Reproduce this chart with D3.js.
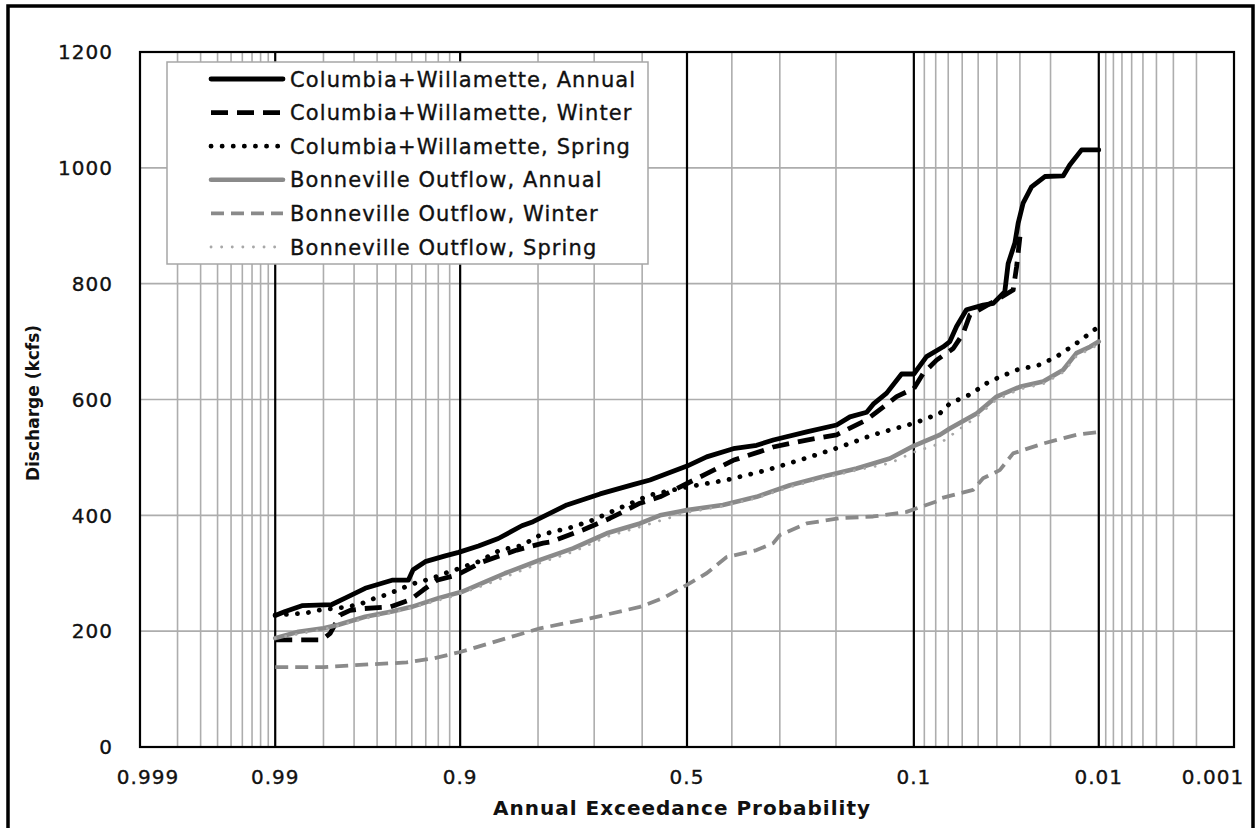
<!DOCTYPE html>
<html>
<head>
<meta charset="utf-8">
<script src="https://cdn.jsdelivr.net/npm/d3@7"></script>
<style>
  body { margin: 0; background: #fff; }
  text { font-family: "DejaVu Sans", Verdana, sans-serif; fill: #111; }
  .heavy { stroke: #111; stroke-width: 0.35px; }
</style>
</head>
<body>
<div id="chart"></div>
<script>
// exceedance probability, discharge (kcfs)
const cwAnnual = [[0.99,227],[0.9884,234],[0.9852,244],[0.9776,246],[0.9733,257],[0.9655,274],[0.9522,288],[0.9423,288],[0.9391,306],[0.9304,320],[0.914,330],[0.9016,336],[0.8806,347],[0.8568,360],[0.8246,382],[0.8077,389],[0.7514,418],[0.6883,437],[0.6198,453],[0.5828,461],[0.5,485],[0.4558,501],[0.397,515],[0.347,521],[0.313,530],[0.2495,544],[0.199,556],[0.1787,570],[0.155,578],[0.1464,592],[0.1297,611],[0.1127,644],[0.1,644],[0.088,674],[0.0739,691],[0.0688,700],[0.0639,726],[0.0572,755],[0.0472,763],[0.0418,766],[0.0363,786],[0.0348,835],[0.032,870],[0.0307,904],[0.0288,939],[0.0258,967],[0.0216,985],[0.0168,986],[0.0153,1005],[0.0129,1031],[0.01,1031]];
const cwWinter = [[0.99,185],[0.9804,185],[0.9781,196],[0.975,228],[0.9715,236],[0.9663,239],[0.9532,242],[0.9411,254],[0.932,271],[0.9212,288],[0.9032,297],[0.8753,320],[0.8319,340],[0.7919,352],[0.7804,354],[0.7209,375],[0.6681,395],[0.6047,421],[0.5606,432],[0.5,455],[0.4558,472],[0.397,495],[0.3402,510],[0.313,518],[0.2495,530],[0.199,539],[0.155,565],[0.1339,587],[0.1182,605],[0.1,619],[0.0911,645],[0.0793,668],[0.0663,688],[0.0594,714],[0.055,746],[0.0401,772],[0.0327,789],[0.0313,829],[0.03,881]];
const cwSpring = [[0.99,228],[0.9845,231],[0.9814,236],[0.9722,242],[0.9669,248],[0.961,257],[0.9543,264],[0.9464,274],[0.9377,283],[0.9253,291],[0.914,300],[0.9016,308],[0.8806,320],[0.8545,340],[0.8246,348],[0.7967,366],[0.7401,380],[0.7022,392],[0.6411,415],[0.5828,435],[0.5,449],[0.4113,461],[0.3264,478],[0.2495,499],[0.1938,518],[0.1464,539],[0.1,559],[0.0766,576],[0.0688,593],[0.053,611],[0.0472,625],[0.0386,639],[0.0313,651],[0.0231,660],[0.0184,674],[0.0139,697],[0.01,726]];
const bonAnnual = [[0.99,188],[0.9859,199],[0.98,205],[0.9755,211],[0.9655,225],[0.9522,234],[0.94,242],[0.9199,257],[0.8983,268],[0.873,285],[0.848,300],[0.8246,311],[0.7967,323],[0.7401,343],[0.6749,369],[0.6047,386],[0.5606,400],[0.5,409],[0.4195,418],[0.347,432],[0.2804,452],[0.2208,467],[0.169,481],[0.1259,498],[0.1,520],[0.0766,539],[0.0688,550],[0.0509,576],[0.0401,605],[0.03,622],[0.0221,631],[0.0168,651],[0.0139,680],[0.0114,691],[0.01,700]];
const bonWinter = [[0.99,138],[0.98,138],[0.9619,143],[0.9433,146],[0.924,153],[0.9,164],[0.8319,193],[0.7967,205],[0.7081,222],[0.6047,242],[0.5539,257],[0.5,280],[0.4558,300],[0.4113,328],[0.347,340],[0.313,352],[0.2998,366],[0.2495,386],[0.1938,395],[0.1464,398],[0.1074,406],[0.0793,424],[0.0766,429],[0.053,444],[0.0472,464],[0.0386,478],[0.0327,507],[0.0221,524],[0.0139,539],[0.01,544]];
const bonSpring = [[0.99,188],[0.98,203],[0.9655,222],[0.9464,236],[0.9096,259],[0.873,280],[0.8246,305],[0.7967,318],[0.7401,337],[0.6749,363],[0.6047,380],[0.5,405],[0.4195,416],[0.347,430],[0.2804,449],[0.2208,464],[0.169,478],[0.1259,490],[0.1,509],[0.0766,524],[0.0509,570],[0.0401,600],[0.03,618],[0.0221,627],[0.0168,647],[0.0139,675],[0.01,695]];

const seriesNames = ["Columbia+Willamette, Annual", "Columbia+Willamette, Winter", "Columbia+Willamette, Spring",
                     "Bonneville Outflow, Annual", "Bonneville Outflow, Winter", "Bonneville Outflow, Spring"];
const seriesData = [cwAnnual, cwWinter, cwSpring, bonAnnual, bonWinter, bonSpring];

const xTickLabels = [0.999, 0.99, 0.9, 0.5, 0.1, 0.01, 0.001];
const majorProbs = [0.99, 0.9, 0.5, 0.1, 0.01];
const minorProbs = [0.998, 0.997, 0.996, 0.995, 0.994, 0.993, 0.992, 0.991,
                    0.98, 0.97, 0.96, 0.95, 0.94, 0.93, 0.92, 0.91,
                    0.8, 0.7, 0.6, 0.4, 0.3, 0.2,
                    0.09, 0.08, 0.07, 0.06, 0.05, 0.04, 0.03, 0.02,
                    0.009, 0.008, 0.007, 0.006, 0.005, 0.004, 0.003, 0.002];
const yTicks = [0, 200, 400, 600, 800, 1000, 1200];

// styles per series
const styles = [
    { color: "#000", width: 4.8, dash: null, cap: "round" },
    { color: "#000", width: 4.8, dash: "17,9", cap: "butt" },
    { color: "#000", width: 4.8, dash: "0.1,11", cap: "round" },
    { color: "#8a8a8a", width: 4.6, dash: null, cap: "round" },
    { color: "#8a8a8a", width: 3.8, dash: "13,7", cap: "butt" },
    { color: "#a8a8a8", width: 2.8, dash: "0.1,10.5", cap: "round" }
];

// inverse standard normal (Acklam)
function qnorm(p) {
    const a = [-3.969683028665376e+01, 2.209460984245205e+02, -2.759285104469687e+02, 1.383577518672690e+02, -3.066479806614716e+01, 2.506628277459239e+00];
    const b = [-5.447609879822406e+01, 1.615858368580409e+02, -1.556989798598866e+02, 6.680131188771972e+01, -1.328068155288572e+01];
    const c = [-7.784894002430293e-03, -3.223964580411365e-01, -2.400758277161838e+00, -2.549732539343734e+00, 4.374664141464968e+00, 2.938163982698783e+00];
    const d = [7.784695709041462e-03, 3.224671290700398e-01, 2.445134137142996e+00, 3.754408661907416e+00];
    const pl = 0.02425;
    let q, r;
    if (p < pl) {
        q = Math.sqrt(-2 * Math.log(p));
        return (((((c[0]*q+c[1])*q+c[2])*q+c[3])*q+c[4])*q+c[5]) / ((((d[0]*q+d[1])*q+d[2])*q+d[3])*q+1);
    }
    if (p > 1 - pl) {
        q = Math.sqrt(-2 * Math.log(1 - p));
        return -(((((c[0]*q+c[1])*q+c[2])*q+c[3])*q+c[4])*q+c[5]) / ((((d[0]*q+d[1])*q+d[2])*q+d[3])*q+1);
    }
    q = p - 0.5; r = q * q;
    return (((((a[0]*r+a[1])*r+a[2])*r+a[3])*r+a[4])*r+a[5])*q / (((((b[0]*r+b[1])*r+b[2])*r+b[3])*r+b[4])*r+1);
}

const width = 1255, height = 828;
const margin = { top: 52, right: 21, bottom: 81, left: 140 };

const zScale = d3.scaleLinear()
    .domain([qnorm(0.999), qnorm(0.001)])
    .range([margin.left, width - margin.right]);
const x = p => zScale(qnorm(p));

const y = d3.scaleLinear()
    .domain([0, 1200])
    .range([height - margin.bottom, margin.top]);

const svg = d3.select("#chart")
    .append("svg")
    .attr("width", width)
    .attr("height", height);

// outer frame
svg.append("rect")
    .attr("x", 8).attr("y", 6)
    .attr("width", 1245).attr("height", 840)
    .attr("fill", "none")
    .attr("stroke", "#000")
    .attr("stroke-width", 3.5);

const grid = svg.append("g");
grid.selectAll(".hgrid")
    .data(yTicks.slice(1, -1))
    .enter().append("line")
    .attr("x1", margin.left).attr("x2", width - margin.right)
    .attr("y1", d => y(d)).attr("y2", d => y(d))
    .attr("stroke", "#adadad").attr("stroke-width", 1.6);

grid.selectAll(".vminor")
    .data(minorProbs)
    .enter().append("line")
    .attr("x1", d => x(d)).attr("x2", d => x(d))
    .attr("y1", margin.top).attr("y2", height - margin.bottom)
    .attr("stroke", "#adadad").attr("stroke-width", 1.6);

grid.selectAll(".vmajor")
    .data(majorProbs)
    .enter().append("line")
    .attr("x1", d => x(d)).attr("x2", d => x(d))
    .attr("y1", margin.top).attr("y2", height - margin.bottom)
    .attr("stroke", "#000").attr("stroke-width", 2.2);

// plot frame
svg.append("rect")
    .attr("x", margin.left).attr("y", margin.top)
    .attr("width", width - margin.left - margin.right)
    .attr("height", height - margin.top - margin.bottom)
    .attr("fill", "none")
    .attr("stroke", "#000")
    .attr("stroke-width", 2.2);

// series
const line = d3.line().x(d => x(d[0])).y(d => y(d[1]));
svg.selectAll(".series")
    .data(seriesData)
    .enter().append("path")
    .attr("class", "series")
    .attr("d", line)
    .attr("fill", "none")
    .attr("stroke", (d, i) => styles[i].color)
    .attr("stroke-width", (d, i) => styles[i].width)
    .attr("stroke-dasharray", (d, i) => styles[i].dash)
    .attr("stroke-linecap", (d, i) => styles[i].cap)
    .attr("stroke-linejoin", "round");

// axes labels
const labelOffset = { "0.999": 8, "0.001": -21 };
svg.selectAll(".xlab")
    .data(xTickLabels)
    .enter().append("text")
    .attr("class", "heavy")
    .attr("x", d => x(d) + (labelOffset[String(d)] || 0))
    .attr("y", 784)
    .attr("text-anchor", "middle")
    .attr("font-size", "20px")
    .attr("letter-spacing", "1px")
    .text(d => String(d));

svg.selectAll(".ylab")
    .data(yTicks)
    .enter().append("text")
    .attr("class", "heavy")
    .attr("x", 113)
    .attr("y", d => y(d))
    .attr("dy", "0.36em")
    .attr("text-anchor", "end")
    .attr("font-size", "20px")
    .attr("letter-spacing", "1px")
    .text(d => d);

svg.append("text")
    .attr("x", (margin.left + width - margin.right) / 2 - 5)
    .attr("y", 815)
    .attr("text-anchor", "middle")
    .attr("font-size", "20px")
    .attr("font-weight", "bold")
    .attr("letter-spacing", "1px")
    .text("Annual Exceedance Probability");

svg.append("text")
    .attr("transform", "translate(39,403) rotate(-90)")
    .attr("text-anchor", "middle")
    .attr("font-size", "17px")
    .attr("font-weight", "bold")
    .text("Discharge (kcfs)");

// legend
const legend = svg.append("g");
legend.append("rect")
    .attr("x", 167).attr("y", 62)
    .attr("width", 481).attr("height", 202)
    .attr("fill", "#fff")
    .attr("stroke", "#a6a6a6")
    .attr("stroke-width", 1.5);

const rowY = i => 79 + i * 33.6;
legend.selectAll(".lgline")
    .data(seriesNames)
    .enter().append("line")
    .attr("x1", 211).attr("x2", 283)
    .attr("y1", (d, i) => rowY(i)).attr("y2", (d, i) => rowY(i))
    .attr("stroke", (d, i) => styles[i].color)
    .attr("stroke-width", (d, i) => styles[i].width)
    .attr("stroke-dasharray", (d, i) => styles[i].dash)
    .attr("stroke-linecap", (d, i) => styles[i].cap);

legend.selectAll(".lgtext")
    .data(seriesNames)
    .enter().append("text")
    .attr("class", "heavy")
    .attr("x", 290)
    .attr("y", (d, i) => rowY(i))
    .attr("dy", "0.36em")
    .attr("font-size", "21px")
    .attr("letter-spacing", "1.1px")
    .text(d => d);
</script>
</body>
</html>
